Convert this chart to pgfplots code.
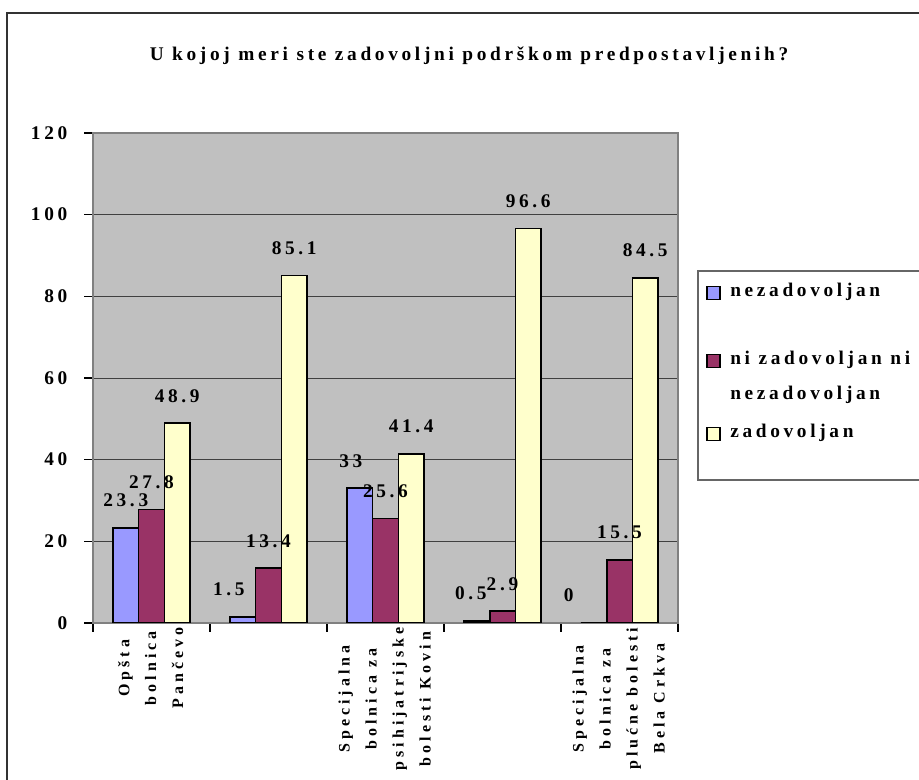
\documentclass[border=0pt]{standalone}
\usepackage{pgfplots}
\usepackage{pgfplotstable}
\pgfplotsset{compat=1.18}
\usepackage{fontspec}
\setmainfont{Liberation Serif}[LetterSpace=19]
\newfontfamily\xlfont{Liberation Serif}[LetterSpace=25]
\definecolor{cblue}{HTML}{9999FF}
\definecolor{cmaroon}{HTML}{993366}
\definecolor{cyellow}{HTML}{FFFFCC}
\definecolor{plotbg}{HTML}{C0C0C0}
\def\px{0.75pt}
\newcommand{\cf}{\fontsize{14.5}{18}\bfseries\selectfont}
\newcommand{\xf}{\xlfont\fontsize{12}{20.2}\bfseries\selectfont}

\pgfplotstableread{
x y dx
0.5 23.3 0
1.5 1.5 -14
2.5 33 -9
3.5 0.5 -6
4.5 0 -25
}\nezad
\pgfplotstableread{
x y dx
0.5 27.8 0
1.5 13.4 0
2.5 25.6 0
3.5 2.9 0
4.5 15.5 0
}\nizad
\pgfplotstableread{
x y dx
0.5 48.9 0
1.5 85.1 0
2.5 41.4 0
3.5 96.6 0
4.5 84.5 0
}\zad

\begin{document}
\begin{tikzpicture}
\path[use as bounding box] (0,0) rectangle (919*\px,780*\px);
\draw[line width=1.2pt, black!80] (7*\px,0) -- (7*\px,767*\px) -- (925*\px,767*\px);
\node[font=\cf, anchor=base, inner sep=0pt] at (469*\px,719*\px) {U kojoj meri ste zadovoljni podrškom predpostavljenih?};

\begin{axis}[
  at={(93*\px,157*\px)}, anchor=south west,
  scale only axis, width=585*\px, height=490*\px,
  xmin=0, xmax=5, ymin=0, ymax=120,
  axis background/.style={fill=plotbg},
  axis line style={draw=black!50, line width=1.1pt},
  ytick={0,20,...,120},
  xtick={0,1,2,3,4,5}, xticklabels={},
  extra x ticks={0.39,2.39,4.39},
  extra x tick labels={{Opšta\\bolnica\\Pančevo},{Specijalna\\bolnica za\\psihijatrijske\\bolesti Kovin},{Specijalna\\bolnica za\\plućne bolesti\\Bela Crkva}},
  extra x tick style={major tick length=0pt, grid=none,
     xticklabel style={rotate=90, anchor=east, align=center, font=\xf, yshift=-12*\px}},
  tick align=outside, xtick pos=bottom, ytick pos=left,
  major tick length=9*\px,
  tick style={black, line width=0.8pt},
  ymajorgrids, grid style={black!75, line width=0.6pt},
  yticklabel style={font=\cf, anchor=east, xshift=-12*\px},
  /pgf/number format/assume math mode=true,
  ybar=0pt, bar width=0.22,
  point meta=explicit symbolic,
  nodes near coords,
  visualization depends on={\thisrow{dx} \as \dx},
  nodes near coords style={font=\cf, anchor=base, yshift=21*\px, xshift=\dx*\px, text=black},
]
\addplot[fill=cblue, draw=black, line width=1.3pt] table[x=x, y=y, meta=y] {\nezad};
\addplot[fill=cmaroon, draw=black, line width=1.3pt] table[x=x, y=y, meta=y] {\nizad};
\addplot[fill=cyellow, draw=black, line width=1.3pt] table[x=x, y=y, meta=y] {\zad};
\end{axis}

% legend
\draw[black!60, line width=0.9pt] (698*\px,300*\px) rectangle (930*\px,509*\px);
\draw[fill=cblue, line width=1.3pt] (707*\px,480.5*\px) rectangle (720*\px,493.5*\px);
\draw[fill=cmaroon, line width=1.3pt] (707*\px,412.5*\px) rectangle (720*\px,425.5*\px);
\draw[fill=cyellow, line width=1.3pt] (707*\px,339.5*\px) rectangle (720*\px,352.5*\px);
\node[font=\cf, anchor=base west, inner sep=0pt] at (730*\px,483*\px) {nezadovoljan};
\node[font=\cf, anchor=base west, inner sep=0pt] at (730*\px,415*\px) {ni zadovoljan ni};
\node[font=\cf, anchor=base west, inner sep=0pt] at (730*\px,380*\px) {nezadovoljan};
\node[font=\cf, anchor=base west, inner sep=0pt] at (730*\px,342*\px) {zadovoljan};
\end{tikzpicture}
\end{document}
